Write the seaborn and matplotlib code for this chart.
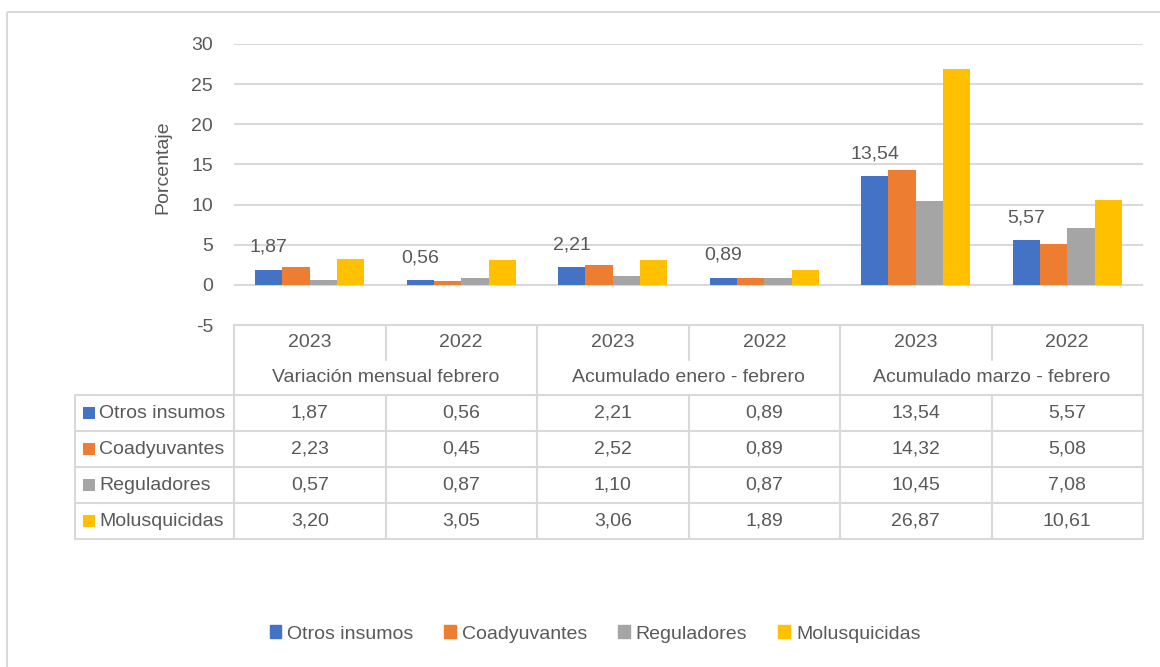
import matplotlib
matplotlib.use("Agg")
import pandas as pd
import matplotlib.pyplot as plt
import matplotlib.patches as mpatches
import seaborn as sns

groups = ["Variación mensual febrero", "Acumulado enero - febrero", "Acumulado marzo - febrero"]
years = ["2023", "2022"]
series = ["Otros insumos", "Coadyuvantes", "Reguladores", "Molusquicidas"]
otros = [1.87, 0.56, 2.21, 0.89, 13.54, 5.57]
coady = [2.23, 0.45, 2.52, 0.89, 14.32, 5.08]
regul = [0.57, 0.87, 1.10, 0.87, 10.45, 7.08]
molus = [3.20, 3.05, 3.06, 1.89, 26.87, 10.61]
colors = ["#4472C4", "#ED7D31", "#A5A5A5", "#FFC000"]

cols = [f"{g} {y}" for g in groups for y in years]
values = [otros, coady, regul, molus]
df = pd.DataFrame(
    [(c, s, v) for s, vals in zip(series, values) for c, v in zip(cols, vals)],
    columns=["col", "serie", "valor"],
)


def fmt(v):
    return f"{v:.2f}".replace(".", ",")


W, H = 1160, 667
sns.set_theme(style="white")
plt.rcParams["font.family"] = ["Liberation Sans", "DejaVu Sans"]
plt.rcParams["axes.unicode_minus"] = False
txt = "#595959"
grid = "#d9d9d9"
fs = 14

fig = plt.figure(figsize=(W / 100, H / 100), dpi=100)
left, right, top, bottom = 234, 1143, 44, 325
ax = fig.add_axes([left / W, 1 - bottom / H, (right - left) / W, (bottom - top) / H])
sns.barplot(data=df, x="col", y="valor", hue="serie", order=cols, hue_order=series,
            palette=colors, width=0.72, gap=0, saturation=1, linewidth=0,
            errorbar=None, legend=False, ax=ax)
ax.set_ylim(-5, 30)
ax.set_yticks(range(-5, 31, 5))
ax.set_xlim(-0.5, len(cols) - 0.5)
ax.yaxis.grid(True, color=grid, lw=1.5)
ax.set_axisbelow(True)
for sp in ax.spines.values():
    sp.set_visible(False)
ax.set_xlabel("")
ax.set_ylabel("")
ax.set_xticks([])
ax.tick_params(axis="y", length=0, pad=15, labelsize=fs, labelcolor=txt)
ax.bar_label(ax.containers[0], labels=[fmt(v) for v in otros], padding=10,
             fontsize=fs, color=txt)

fig.text(163 / W, 1 - 167 / H, "Porcentaje", rotation=90, ha="center", va="center",
         fontsize=fs, color=txt)

# overlay in pixel coordinates for the data table and frame
ov = fig.add_axes([0, 0, 1, 1])
ov.set_xlim(0, W)
ov.set_ylim(H, 0)
ov.axis("off")
ov.patch.set_alpha(0)

cw = (right - left) / len(cols)
xs = [left + i * cw for i in range(len(cols) + 1)]
y_h1, y_h2, y_d = 325, 360, 395
rh = 36
y_end = y_d + rh * len(series)
lab_x = 75
lkw = dict(color=grid, lw=1.5)

ov.plot([left, right], [y_h1, y_h1], **lkw)
for i in range(len(series) + 1):
    y = y_d + i * rh
    ov.plot([lab_x, right], [y, y], **lkw)
ov.plot([lab_x, lab_x], [y_d, y_end], **lkw)
for i, x in enumerate(xs):
    if i % 2 == 0:
        ov.plot([x, x], [y_h1, y_end], **lkw)
    else:
        ov.plot([x, x], [y_h1, y_h2], **lkw)
        ov.plot([x, x], [y_d, y_end], **lkw)

for i, c in enumerate(cols):
    xc = (xs[i] + xs[i + 1]) / 2
    ov.text(xc, (y_h1 + y_h2) / 2, years[i % 2], ha="center", va="center",
            fontsize=fs, color=txt)
for g, name in enumerate(groups):
    xc = (xs[2 * g] + xs[2 * g + 2]) / 2
    ov.text(xc, (y_h2 + y_d) / 2, name, ha="center", va="center", fontsize=fs, color=txt)

for r, (s, vals, col) in enumerate(zip(series, values, colors)):
    yc = y_d + r * rh + rh / 2
    ov.add_patch(mpatches.Rectangle((83, yc - 6), 12, 12, color=col, lw=0))
    ov.text(99, yc, s, ha="left", va="center", fontsize=fs, color=txt)
    for i, v in enumerate(vals):
        xc = (xs[i] + xs[i + 1]) / 2
        ov.text(xc, yc, fmt(v), ha="center", va="center", fontsize=fs, color=txt)

ov.add_patch(mpatches.Rectangle((7, 12), W, H, fill=False, edgecolor=grid, lw=1.5))

handles = [mpatches.Patch(color=c, label=s) for s, c in zip(series, colors)]
fig.legend(handles=handles, loc="center", bbox_to_anchor=(595 / W, 1 - 634 / H), ncol=4,
           frameon=False, fontsize=fs, handlelength=0.6, handleheight=0.6,
           handletextpad=0.3, columnspacing=1.6, labelcolor=txt)

fig.savefig("out.png", dpi=100)
